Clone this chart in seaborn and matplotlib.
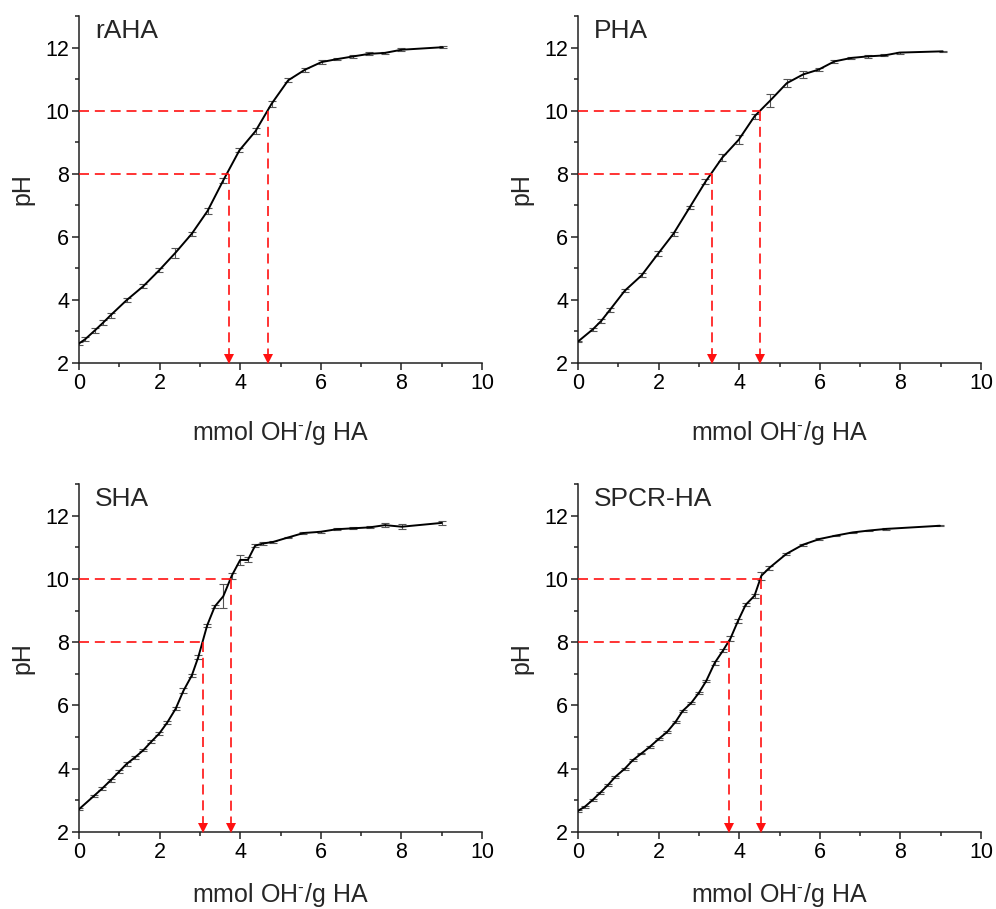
import numpy as np
import pandas as pd
import matplotlib
matplotlib.use("Agg")
import matplotlib.pyplot as plt
import seaborn as sns

# ---------------- data ----------------
titles = ["rAHA", "PHA", "SHA", "SPCR-HA"]

rAHA_x = [0.0, 0.15, 0.4, 0.6, 0.79, 1.18, 1.6, 1.99, 2.39, 2.8, 3.19, 3.58, 3.98, 4.38, 4.78, 5.19, 5.61, 6.02, 6.39, 6.81, 7.2, 7.59, 8.0, 9.02]
rAHA_y = [2.62, 2.75, 3.04, 3.28, 3.52, 3.99, 4.44, 4.94, 5.49, 6.1, 6.82, 7.79, 8.74, 9.35, 10.22, 10.96, 11.3, 11.54, 11.63, 11.72, 11.8, 11.83, 11.93, 12.01]
rAHA_e = [0.06, 0.06, 0.08, 0.08, 0.08, 0.06, 0.06, 0.06, 0.15, 0.06, 0.1, 0.08, 0.06, 0.1, 0.1, 0.06, 0.06, 0.05, 0.04, 0.04, 0.05, 0.03, 0.04, 0.03]

PHA_x = [0.0, 0.37, 0.58, 0.79, 1.16, 1.58, 1.99, 2.37, 2.77, 3.16, 3.58, 3.99, 4.38, 4.77, 5.18, 5.59, 5.97, 6.36, 6.78, 7.19, 7.6, 7.98, 9.05]
PHA_y = [2.68, 3.07, 3.34, 3.68, 4.29, 4.78, 5.47, 6.1, 6.93, 7.74, 8.51, 9.08, 9.82, 10.32, 10.87, 11.15, 11.3, 11.56, 11.67, 11.72, 11.75, 11.84, 11.88]
PHA_e = [0.03, 0.05, 0.06, 0.06, 0.05, 0.06, 0.08, 0.06, 0.05, 0.08, 0.12, 0.15, 0.08, 0.2, 0.12, 0.1, 0.05, 0.04, 0.03, 0.04, 0.03, 0.03, 0.02]

SHA_x = [0.0, 0.37, 0.58, 0.79, 0.99, 1.18, 1.39, 1.6, 1.79, 1.99, 2.19, 2.4, 2.59, 2.8, 2.96, 3.18, 3.37, 3.58, 3.79, 4.0, 4.19, 4.37, 4.57, 4.82, 5.19, 5.57, 6.0, 6.39, 6.81, 7.22, 7.59, 8.01, 9.0]
SHA_y = [2.72, 3.14, 3.38, 3.64, 3.9, 4.15, 4.36, 4.59, 4.85, 5.11, 5.46, 5.9, 6.46, 6.95, 7.53, 8.53, 9.13, 9.45, 10.1, 10.6, 10.6, 11.05, 11.12, 11.17, 11.31, 11.45, 11.49, 11.57, 11.6, 11.63, 11.7, 11.65, 11.77]
SHA_e = [0.03, 0.04, 0.04, 0.05, 0.05, 0.05, 0.04, 0.04, 0.05, 0.05, 0.04, 0.05, 0.08, 0.06, 0.05, 0.06, 0.06, 0.38, 0.1, 0.15, 0.08, 0.05, 0.04, 0.04, 0.03, 0.03, 0.03, 0.03, 0.03, 0.03, 0.06, 0.07, 0.06]

SPCR_x = [0.0, 0.17, 0.36, 0.55, 0.74, 0.93, 1.16, 1.36, 1.57, 1.78, 2.01, 2.21, 2.42, 2.6, 2.81, 3.0, 3.18, 3.39, 3.6, 3.78, 3.97, 4.16, 4.38, 4.55, 4.75, 5.17, 5.58, 5.99, 6.4, 6.82, 7.23, 7.64, 8.98]
SPCR_y = [2.67, 2.8, 3.01, 3.24, 3.48, 3.75, 4.0, 4.27, 4.48, 4.69, 4.95, 5.16, 5.48, 5.83, 6.08, 6.4, 6.77, 7.34, 7.74, 8.11, 8.67, 9.18, 9.47, 10.1, 10.35, 10.79, 11.08, 11.26, 11.37, 11.47, 11.53, 11.58, 11.68]
SPCR_e = [0.03, 0.03, 0.03, 0.03, 0.03, 0.03, 0.03, 0.03, 0.03, 0.03, 0.03, 0.03, 0.03, 0.03, 0.03, 0.03, 0.03, 0.05, 0.05, 0.08, 0.05, 0.05, 0.06, 0.12, 0.06, 0.03, 0.03, 0.03, 0.02, 0.02, 0.02, 0.02, 0.02]

# x positions at which pH 8 and pH 10 are reached (dashed guides)
pH_levels = [8, 10]
x_at_pH8 = [3.73, 3.33, 3.08, 3.74]
x_at_pH10 = [4.68, 4.52, 3.77, 4.53]

x_ticks = [0, 2, 4, 6, 8, 10]
y_ticks = [2, 4, 6, 8, 10, 12]
x_label = "mmol OH$^{\\mathregular{\u2010}}$/g HA"
y_label = "pH"

series = [(rAHA_x, rAHA_y, rAHA_e), (PHA_x, PHA_y, PHA_e),
          (SHA_x, SHA_y, SHA_e), (SPCR_x, SPCR_y, SPCR_e)]

# ---------------- style ----------------
sns.set_theme(style="ticks")
plt.rcParams["font.family"] = ["Liberation Sans", "DejaVu Sans"]
plt.rcParams["mathtext.fontset"] = "custom"
plt.rcParams["mathtext.rm"] = "Liberation Sans"
plt.rcParams["mathtext.it"] = "Liberation Sans"
plt.rcParams["axes.linewidth"] = 1.1
plt.rcParams["axes.edgecolor"] = "#222222"

fig = plt.figure(figsize=(9.96, 9.09), dpi=100)
W, H = 996, 909
boxes = [(79, 16, 482, 363), (578, 16, 981, 363),
         (79, 484, 482, 832), (578, 484, 981, 832)]

red = "#ff1010"
for i, (bx, (xs, ys, es)) in enumerate(zip(boxes, series)):
    l, t, r, b = bx
    ax = fig.add_axes([l / W, 1 - b / H, (r - l) / W, (b - t) / H])
    df = pd.DataFrame({"x": xs, "y": ys})
    ax.errorbar(xs, ys, yerr=es, fmt="none", ecolor="#555555",
                elinewidth=0.8, capsize=3, capthick=0.8, zorder=2)
    sns.lineplot(data=df, x="x", y="y", ax=ax, color="black",
                 linewidth=1.4, zorder=3, sort=True)

    # dashed guides
    for lvl, xv in zip(pH_levels, [x_at_pH8[i], x_at_pH10[i]]):
        ax.plot([0, xv], [lvl, lvl], ls=(0, (6, 3.5)), color=red, lw=1.2, zorder=4)
        ax.plot([xv, xv], [lvl, 2.15], ls=(0, (6, 3.5)), color=red, lw=1.2, zorder=4)
        ax.plot([xv], [2.13], marker="v", color=red, markersize=7,
                markeredgewidth=0, zorder=5, clip_on=False)

    ax.set_xlim(0, 10)
    ax.set_ylim(2, 13)
    ax.set_xticks(x_ticks)
    ax.set_yticks(y_ticks)
    ax.set_xticks(np.arange(1, 10, 2), minor=True)
    ax.set_yticks(np.arange(3, 14, 2), minor=True)
    ax.tick_params(which="major", direction="out", length=5, width=1.1,
                   labelsize=15.5, pad=2, colors="#222222", labelcolor="black")
    ax.tick_params(which="minor", direction="out", length=3, width=1.1,
                   colors="#222222")
    ax.set_xlabel(x_label, fontsize=18, labelpad=(18 if i < 2 else 13))
    ax.set_ylabel(y_label, fontsize=18, labelpad=8)
    sns.despine(ax=ax)
    ax.text(0.04, 0.99, titles[i], transform=ax.transAxes, fontsize=19,
            va="top", ha="left")

fig.savefig("out.png", dpi=100)
